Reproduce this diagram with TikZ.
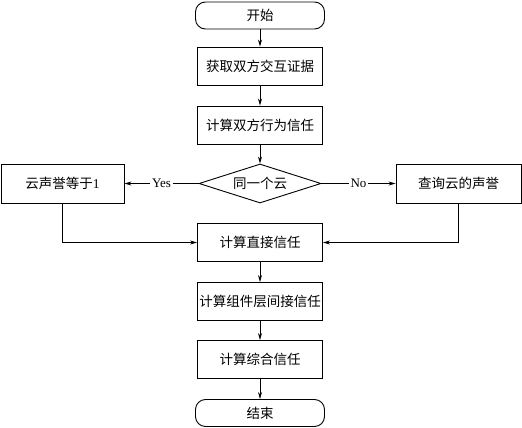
\documentclass[tikz,border=0pt]{standalone}
\usepackage{fontspec}
\setmainfont{Liberation Serif}
\newfontfamily\cjk{Noto Sans CJK SC}
\usetikzlibrary{shapes.geometric,arrows.meta}
\begin{document}
\begin{tikzpicture}[x=1pt,y=-1pt,
  every node/.style={font=\fontsize{13.5}{15}\selectfont},
  procbox/.style={draw,line width=0.9pt,minimum width=125pt,minimum height=38pt,inner sep=0pt,font=\cjk\fontsize{13.5}{15}\selectfont},
  termbox/.style={draw,line width=0.9pt,rounded corners=10pt,minimum width=129pt,minimum height=27pt,inner sep=0pt,font=\cjk\fontsize{13.5}{15}\selectfont},
  decbox/.style={draw,line width=0.9pt,diamond,aspect=3,minimum width=122pt,minimum height=39pt,inner sep=0pt,font=\cjk\fontsize{13.5}{15}\selectfont},
  conn/.style={line width=0.8pt,-{Stealth[length=7pt,width=4pt]}},
  lbl/.style={fill=white,inner sep=2pt,font=\fontsize{13}{15}\selectfont}]
\useasboundingbox (0,0) rectangle (522,428);
\node[termbox] (start) at (260,15.5) {开始};
\node[procbox] (b1) at (260,66) {获取双方交互证据};
\node[procbox] (b2) at (260,125) {计算双方行为信任};
\node[decbox] (d) at (260,183.5) {同一个云};
\node[procbox,minimum width=123pt,minimum height=39pt] (l) at (62.5,183.5) {云声誉等于{\rmfamily 1}};
\node[procbox,minimum height=39pt] (r) at (458.5,183.5) {查询云的声誉};
\node[procbox] (b3) at (260,242.5) {计算直接信任};
\node[procbox] (b4) at (260,301.5) {计算组件层间接信任};
\node[procbox] (b5) at (260,359.5) {计算综合信任};
\node[termbox] (end) at (260,413) {结束};
\draw[conn] (start) -- (b1);
\draw[conn] (b1) -- (b2);
\draw[conn] (b2) -- (d);
\draw[conn] (d.west) -- node[lbl] {Yes} (l.east);
\draw[conn] (d.east) -- node[lbl] {No} (r.west);
\draw[conn] (l.south) |- (b3.west);
\draw[conn] (r.south) |- (b3.east);
\draw[conn] (b3) -- (b4);
\draw[conn] (b4) -- (b5);
\draw[conn] (b5) -- (end);
\end{tikzpicture}
\end{document}
